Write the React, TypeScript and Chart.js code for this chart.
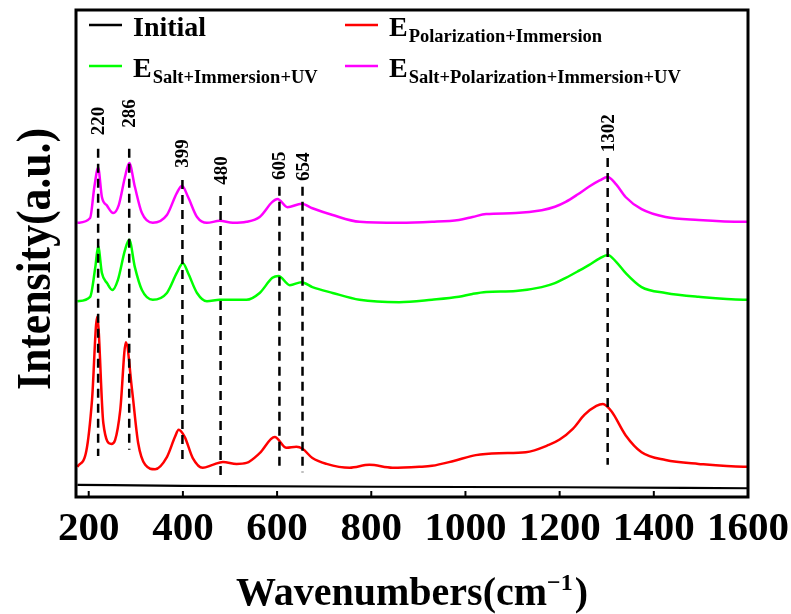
import React, { useEffect, useRef } from "react";
import { Chart, registerables } from "chart.js";

Chart.register(...registerables);

// ---------- data ----------
const xTickValues = [200, 400, 600, 800, 1000, 1200, 1400, 1600];

const initialX = [176, 400, 800, 1200, 1600];
const initialY = [2.5, 2.3, 2.1, 2.0, 1.8];

const polX = [176, 195, 207, 218, 231, 248, 256, 267, 279, 292, 305, 320, 341, 366, 383, 391, 404, 421, 442, 463, 485, 514, 535, 563, 595, 620, 641, 654, 675, 705, 754, 796, 845, 902, 929, 975, 1022, 1071, 1128, 1177, 1200, 1228, 1253, 1278, 1292, 1310, 1340, 1374, 1425, 1495, 1590, 1600];
const polY = [6.2, 9.5, 19.9, 37.0, 15.2, 10.9, 11.7, 17.9, 31.8, 22.0, 11.1, 6.6, 5.7, 8.2, 12.3, 13.8, 12.3, 8.0, 6.0, 6.6, 7.2, 6.8, 7.0, 9.0, 12.3, 10.1, 10.3, 9.9, 8.0, 6.8, 6.0, 6.6, 6.0, 6.2, 6.4, 7.4, 8.6, 9.0, 9.2, 10.7, 11.8, 14.0, 16.9, 18.7, 19.1, 17.6, 12.7, 9.2, 7.6, 6.8, 6.2, 6.2];

const saltX = [176, 203, 214, 220, 228, 239, 250, 262, 277, 286, 298, 313, 336, 366, 387, 400, 411, 430, 451, 478, 506, 535, 563, 590, 603, 627, 652, 675, 718, 775, 859, 929, 986, 1015, 1044, 1107, 1162, 1190, 1213, 1238, 1262, 1285, 1302, 1320, 1340, 1374, 1425, 1495, 1590, 1600];
const saltY = [40.2, 41.1, 47.2, 51.5, 46.0, 43.9, 42.5, 44.6, 50.7, 52.8, 47.2, 42.5, 40.5, 41.9, 46.0, 48.0, 46.0, 41.9, 40.2, 40.5, 40.5, 40.5, 41.9, 45.0, 45.4, 43.5, 44.1, 43.1, 41.9, 40.5, 40.0, 40.5, 41.1, 41.7, 42.1, 42.3, 43.1, 43.9, 45.0, 46.3, 47.6, 49.0, 49.7, 48.3, 46.0, 43.1, 41.9, 41.1, 40.5, 40.5];

const allX = [176, 203, 212, 220, 228, 239, 252, 264, 277, 286, 298, 313, 336, 366, 387, 398, 411, 430, 451, 478, 506, 535, 563, 590, 601, 622, 652, 675, 718, 775, 859, 929, 986, 1015, 1044, 1107, 1162, 1190, 1213, 1238, 1262, 1285, 1302, 1320, 1340, 1374, 1425, 1495, 1590, 1600];
const allY = [56.3, 57.3, 63.7, 67.6, 61.6, 59.8, 58.3, 60.0, 65.7, 68.6, 63.7, 58.3, 56.3, 57.9, 62.4, 63.9, 61.6, 57.5, 56.3, 56.7, 56.3, 56.5, 57.5, 60.6, 61.2, 59.5, 60.2, 59.3, 57.9, 56.5, 56.3, 56.5, 56.9, 57.5, 58.1, 58.3, 58.9, 59.6, 60.6, 62.1, 63.7, 65.0, 65.7, 64.2, 61.6, 59.1, 57.5, 56.9, 56.5, 56.5];

const peakLabels = ["220", "286", "399", "480", "605", "654", "1302"];
const peakWavenumbers = [220, 286, 399, 480, 605, 654, 1302];
const peakLineTop = [71.5, 71.5, 65.1, 61.8, 63.7, 63.7, 69.6];
const peakLineBottom = [8.4, 9.7, 7.0, 3.9, 5.5, 5.1, 6.6];
const peakLabelBase = [74.3, 75.8, 67.6, 64.1, 65.1, 64.9, 70.8];

const seriesMain = ["Initial", "E", "E", "E"];
const seriesSub = ["", "Polarization+Immersion", "Salt+Immersion+UV", "Salt+Polarization+Immersion+UV"];
const seriesColors = ["#000000", "#ff0000", "#00ff00", "#ff00ff"];

const xTitleMain = "Wavenumbers(cm";
const xTitleSup = "\u22121";
const xTitleEnd = ")";
const yTitle = "Intensity(a.u.)";

const FONT = '"Liberation Serif", "Times New Roman", serif';

function pts(xs: number[], ys: number[]) {
  return xs.map((x, i) => ({ x, y: ys[i] }));
}

const decorPlugin = {
  id: "decor",
  afterDraw(chart: any) {
    const { ctx, chartArea, scales } = chart;
    const xs = scales.x;
    const ys = scales.y;
    ctx.save();
    ctx.fillStyle = "#000";
    ctx.strokeStyle = "#000";

    // peak labels
    ctx.font = `bold 19px ${FONT}`;
    peakLabels.forEach((lab, i) => {
      const x = xs.getPixelForValue(peakWavenumbers[i]);
      const y = ys.getPixelForValue(peakLabelBase[i]);
      ctx.save();
      ctx.translate(x + 6, y);
      ctx.rotate(-Math.PI / 2);
      ctx.textAlign = "left";
      ctx.textBaseline = "alphabetic";
      ctx.fillText(lab, 0, 0);
      ctx.restore();
    });

    // frame
    ctx.lineWidth = 3;
    ctx.strokeRect(chartArea.left, chartArea.top, chartArea.right - chartArea.left, chartArea.bottom - chartArea.top);

    // inward ticks
    ctx.lineWidth = 2;
    xTickValues.forEach((v) => {
      const x = xs.getPixelForValue(v);
      ctx.beginPath();
      ctx.moveTo(x, chartArea.bottom);
      ctx.lineTo(x, chartArea.bottom - 6);
      ctx.stroke();
    });

    // legend
    const colX = [89, 345];
    const rowY = [25, 66];
    seriesMain.forEach((m, i) => {
      const col = i % 2;
      const row = Math.floor(i / 2);
      const lx = colX[col];
      const ly = rowY[row];
      ctx.strokeStyle = seriesColors[i];
      ctx.lineWidth = 2.5;
      ctx.beginPath();
      ctx.moveTo(lx, ly);
      ctx.lineTo(lx + 33, ly);
      ctx.stroke();
      ctx.fillStyle = "#000";
      ctx.font = `bold 28px ${FONT}`;
      ctx.textAlign = "left";
      ctx.textBaseline = "alphabetic";
      const tx = lx + 44;
      const by = ly + 11;
      ctx.fillText(m, tx, by);
      if (seriesSub[i]) {
        const w = ctx.measureText(m).width;
        ctx.font = `bold 18.5px ${FONT}`;
        ctx.fillText(seriesSub[i], tx + w + 1, by + 6);
      }
    });

    // x title
    ctx.fillStyle = "#000";
    ctx.textBaseline = "alphabetic";
    ctx.textAlign = "left";
    ctx.font = `bold 40px ${FONT}`;
    const w1 = ctx.measureText(xTitleMain).width;
    const w3 = ctx.measureText(xTitleEnd).width;
    ctx.font = `bold 24px ${FONT}`;
    const w2 = ctx.measureText(xTitleSup).width;
    const total = w1 + w2 + w3 + 2;
    const cx = (chartArea.left + chartArea.right) / 2;
    let sx = cx - total / 2;
    const base = 605;
    ctx.font = `bold 40px ${FONT}`;
    ctx.fillText(xTitleMain, sx, base);
    sx += w1;
    ctx.font = `bold 24px ${FONT}`;
    ctx.fillText(xTitleSup, sx, base - 15);
    sx += w2 + 2;
    ctx.font = `bold 40px ${FONT}`;
    ctx.fillText(xTitleEnd, sx, base);

    // y title
    ctx.save();
    ctx.translate(50, 259);
    ctx.rotate(-Math.PI / 2);
    ctx.scale(0.91, 1);
    ctx.font = `bold 48px ${FONT}`;
    ctx.textAlign = "center";
    ctx.fillText(yTitle, 0, 0);
    ctx.restore();

    ctx.restore();
  },
};

export default function App() {
  const ref = useRef<HTMLCanvasElement | null>(null);

  useEffect(() => {
    if (!ref.current) return;
    const curveStyle = (color: string, w: number) => ({
      borderColor: color,
      backgroundColor: color,
      borderWidth: w,
      pointRadius: 0,
      fill: false,
      cubicInterpolationMode: "monotone" as const,
      order: 1,
    });
    const peakSets = peakWavenumbers.map((w, i) => ({
      label: "peak" + peakLabels[i],
      data: [
        { x: w, y: peakLineTop[i] },
        { x: w, y: peakLineBottom[i] },
      ],
      borderColor: "#000",
      borderWidth: 2.5,
      borderDash: [9, 6],
      pointRadius: 0,
      fill: false,
      order: 0,
    }));

    const chart = new Chart(ref.current, {
      type: "line",
      data: {
        datasets: [
          { label: "Initial", data: pts(initialX, initialY), ...curveStyle(seriesColors[0], 2.2) },
          { label: "E Polarization+Immersion", data: pts(polX, polY), ...curveStyle(seriesColors[1], 2.5) },
          { label: "E Salt+Immersion+UV", data: pts(saltX, saltY), ...curveStyle(seriesColors[2], 2.5) },
          { label: "E Salt+Polarization+Immersion+UV", data: pts(allX, allY), ...curveStyle(seriesColors[3], 2.5) },
          ...peakSets,
        ] as any,
      },
      options: {
        animation: false,
        responsive: false,
        devicePixelRatio: 1,
        layout: { padding: { top: 10, right: 43, left: 0, bottom: 0 } },
        plugins: { legend: { display: false }, tooltip: { enabled: false }, title: { display: false } },
        scales: {
          x: {
            type: "linear",
            min: 173,
            max: 1600,
            grid: { display: false, drawTicks: false },
            border: { display: false },
            afterBuildTicks: (scale: any) => {
              scale.ticks = xTickValues.map((v) => ({ value: v }));
            },
            afterFit: (scale: any) => {
              scale.height = 117;
              scale.paddingLeft = 0;
              scale.paddingRight = 0;
            },
            ticks: {
              autoSkip: false,
              maxRotation: 0,
              minRotation: 0,
              padding: 8,
              color: "#000",
              font: { family: FONT, size: 41, weight: "bold" },
              callback: (v: any) => String(v),
            },
          },
          y: {
            type: "linear",
            min: 0,
            max: 100,
            grid: { display: false, drawTicks: false },
            border: { display: false },
            ticks: { display: false },
            afterFit: (scale: any) => {
              scale.width = 76;
            },
          },
        },
      } as any,
      plugins: [decorPlugin],
    });
    return () => chart.destroy();
  }, []);

  return (
    <div style={{ position: "absolute", left: 0, top: 0, width: 791, height: 614, background: "#fff" }}>
      <canvas ref={ref} width={791} height={614} style={{ display: "block" }} />
    </div>
  );
}
